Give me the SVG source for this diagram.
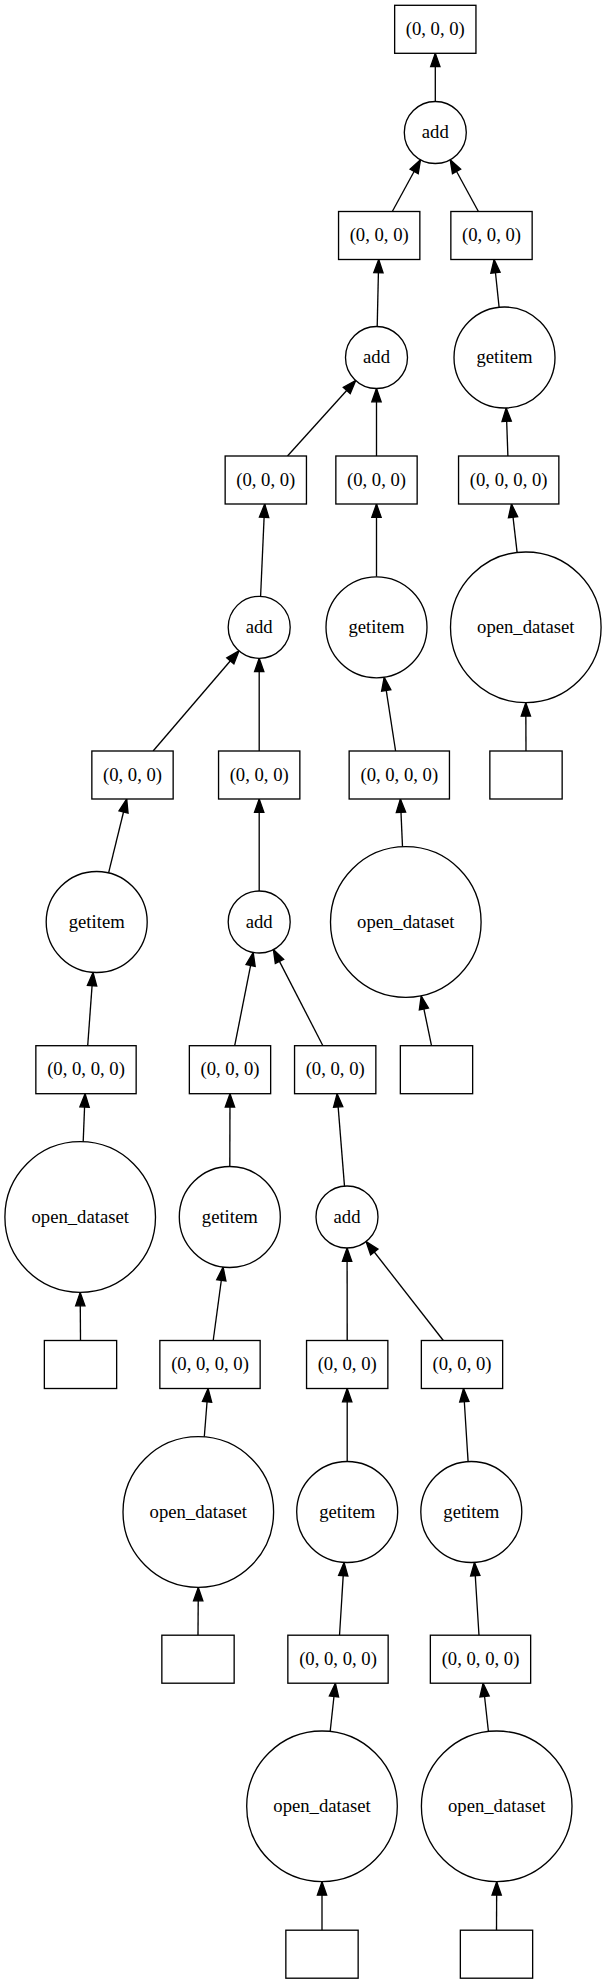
<svg xmlns="http://www.w3.org/2000/svg" width="607" height="1984" viewBox="0 0 607 1984">
<style>
.n rect,.n circle{fill:#fff;stroke:#000;stroke-width:1.33}
.n text{font-family:"Liberation Serif","Times New Roman",serif;font-size:18.67px;text-anchor:middle;fill:#000}
#edges line{stroke:#000;stroke-width:1.33;marker-end:url(#arr)}
</style>
<defs>
<marker id="arr" markerUnits="userSpaceOnUse" markerWidth="16" markerHeight="12" refX="13.33" refY="4.67" orient="auto" overflow="visible">
<path d="M0,0 L13.33,4.67 L0,9.33 Z" fill="#000" stroke="#000" stroke-width="1.33"/>
</marker>
</defs>
<rect x="0" y="0" width="607" height="1984" fill="#fff"/>
<g id="edges">
<line x1="435.3" y1="101.5" x2="435.3" y2="53.3"/>
<line x1="392.3" y1="211.5" x2="420.5" y2="159.7"/>
<line x1="478.4" y1="211.5" x2="450.2" y2="159.7"/>
<line x1="377.2" y1="326.5" x2="378.7" y2="259.5"/>
<line x1="499.1" y1="307.3" x2="494.1" y2="259.5"/>
<line x1="287.5" y1="456" x2="355.7" y2="380.5"/>
<line x1="376.5" y1="456" x2="376.5" y2="388.5"/>
<line x1="507.9" y1="456" x2="506.2" y2="408"/>
<line x1="260.6" y1="596.3" x2="264.7" y2="504"/>
<line x1="376.5" y1="576.8" x2="376.5" y2="504"/>
<line x1="517.1" y1="552.3" x2="511.5" y2="504"/>
<line x1="153.1" y1="751" x2="239" y2="650.8"/>
<line x1="259.2" y1="751" x2="259.2" y2="658.3"/>
<line x1="395.6" y1="751" x2="384.2" y2="677.2"/>
<line x1="526" y1="751" x2="525.8" y2="702.8"/>
<line x1="108.6" y1="872.9" x2="126.7" y2="799"/>
<line x1="259.2" y1="891" x2="259.2" y2="799"/>
<line x1="402.5" y1="846.6" x2="400.4" y2="799"/>
<line x1="234.7" y1="1045.7" x2="253.2" y2="952.4"/>
<line x1="322.9" y1="1045.7" x2="273.4" y2="949.6"/>
<line x1="87.7" y1="1045.7" x2="93.05" y2="972.4"/>
<line x1="431.5" y1="1045.7" x2="421.2" y2="995.9"/>
<line x1="83.2" y1="1141.6" x2="85.1" y2="1093.7"/>
<line x1="229.8" y1="1166.5" x2="230" y2="1093.7"/>
<line x1="344.5" y1="1186.1" x2="337.1" y2="1093.7"/>
<line x1="80.5" y1="1340.5" x2="80.2" y2="1292.5"/>
<line x1="213.2" y1="1340.5" x2="223.1" y2="1267.1"/>
<line x1="347.2" y1="1340.5" x2="347.1" y2="1248"/>
<line x1="443.3" y1="1340.5" x2="366.1" y2="1241.5"/>
<line x1="204.3" y1="1436.7" x2="208.1" y2="1388.5"/>
<line x1="347.2" y1="1461.5" x2="347.2" y2="1388.5"/>
<line x1="468.1" y1="1461.6" x2="463.5" y2="1388.5"/>
<line x1="198" y1="1635.2" x2="198.3" y2="1587.5"/>
<line x1="339.5" y1="1635.2" x2="344.05" y2="1562.4"/>
<line x1="479" y1="1635.2" x2="474.45" y2="1562.4"/>
<line x1="330.2" y1="1731.2" x2="335.4" y2="1683.2"/>
<line x1="488.4" y1="1731.3" x2="483.1" y2="1683.2"/>
<line x1="322" y1="1930.2" x2="322" y2="1881.8"/>
<line x1="496.5" y1="1930.2" x2="496.7" y2="1881.8"/>
</g>
<g id="n0" class="n"><rect x="394.65" y="5.3" width="81.3" height="48"/><text x="435.3" y="34.9">(0, 0, 0)</text></g>
<g id="n1" class="n"><circle cx="435.3" cy="132.5" r="31"/><text x="435.3" y="138.1">add</text></g>
<g id="n2" class="n"><rect x="338.55" y="211.5" width="81.3" height="48"/><text x="379.2" y="241.1">(0, 0, 0)</text></g>
<g id="n3" class="n"><rect x="450.85" y="211.5" width="81.3" height="48"/><text x="491.5" y="241.1">(0, 0, 0)</text></g>
<g id="n4" class="n"><circle cx="376.5" cy="357.5" r="31"/><text x="376.5" y="363.1">add</text></g>
<g id="n5" class="n"><circle cx="504.5" cy="357.5" r="50.5"/><text x="504.5" y="363.1">getitem</text></g>
<g id="n6" class="n"><rect x="225.15" y="456" width="81.3" height="48"/><text x="265.8" y="485.6">(0, 0, 0)</text></g>
<g id="n7" class="n"><rect x="335.85" y="456" width="81.3" height="48"/><text x="376.5" y="485.6">(0, 0, 0)</text></g>
<g id="n8" class="n"><rect x="458.55" y="456" width="100.3" height="48"/><text x="508.7" y="485.6">(0, 0, 0, 0)</text></g>
<g id="n9" class="n"><circle cx="259.2" cy="627.3" r="31"/><text x="259.2" y="632.9">add</text></g>
<g id="n10" class="n"><circle cx="376.5" cy="627.3" r="50.5"/><text x="376.5" y="632.9">getitem</text></g>
<g id="n11" class="n"><circle cx="525.8" cy="627.3" r="75.3"/><text x="525.8" y="632.9">open_dataset</text></g>
<g id="n12" class="n"><rect x="91.85" y="751" width="81.3" height="48"/><text x="132.5" y="780.6">(0, 0, 0)</text></g>
<g id="n13" class="n"><rect x="218.55" y="751" width="81.3" height="48"/><text x="259.2" y="780.6">(0, 0, 0)</text></g>
<g id="n14" class="n"><rect x="349.15" y="751" width="100.3" height="48"/><text x="399.3" y="780.6">(0, 0, 0, 0)</text></g>
<g id="n15" class="n"><rect x="489.85" y="751" width="72.3" height="48"/></g>
<g id="n16" class="n"><circle cx="96.7" cy="922" r="50.5"/><text x="96.7" y="927.6">getitem</text></g>
<g id="n17" class="n"><circle cx="259.2" cy="922" r="31"/><text x="259.2" y="927.6">add</text></g>
<g id="n18" class="n"><circle cx="405.8" cy="922" r="75.3"/><text x="405.8" y="927.6">open_dataset</text></g>
<g id="n19" class="n"><rect x="35.85" y="1045.7" width="100.3" height="48"/><text x="86" y="1075.3">(0, 0, 0, 0)</text></g>
<g id="n20" class="n"><rect x="189.35" y="1045.7" width="81.3" height="48"/><text x="230" y="1075.3">(0, 0, 0)</text></g>
<g id="n21" class="n"><rect x="294.55" y="1045.7" width="81.3" height="48"/><text x="335.2" y="1075.3">(0, 0, 0)</text></g>
<g id="n22" class="n"><rect x="400.35" y="1045.7" width="72.3" height="48"/></g>
<g id="n23" class="n"><circle cx="80.2" cy="1217" r="75.3"/><text x="80.2" y="1222.6">open_dataset</text></g>
<g id="n24" class="n"><circle cx="229.8" cy="1217" r="50.5"/><text x="229.8" y="1222.6">getitem</text></g>
<g id="n25" class="n"><circle cx="347" cy="1217" r="31"/><text x="347" y="1222.6">add</text></g>
<g id="n26" class="n"><rect x="44.35" y="1340.5" width="72.3" height="48"/></g>
<g id="n27" class="n"><rect x="159.85" y="1340.5" width="100.3" height="48"/><text x="210" y="1370.1">(0, 0, 0, 0)</text></g>
<g id="n28" class="n"><rect x="306.55" y="1340.5" width="81.3" height="48"/><text x="347.2" y="1370.1">(0, 0, 0)</text></g>
<g id="n29" class="n"><rect x="421.35" y="1340.5" width="81.3" height="48"/><text x="462" y="1370.1">(0, 0, 0)</text></g>
<g id="n30" class="n"><circle cx="198.3" cy="1512" r="75.3"/><text x="198.3" y="1517.6">open_dataset</text></g>
<g id="n31" class="n"><circle cx="347.2" cy="1512" r="50.5"/><text x="347.2" y="1517.6">getitem</text></g>
<g id="n32" class="n"><circle cx="471.3" cy="1512" r="50.5"/><text x="471.3" y="1517.6">getitem</text></g>
<g id="n33" class="n"><rect x="161.85" y="1635.2" width="72.3" height="48"/></g>
<g id="n34" class="n"><rect x="287.85" y="1635.2" width="100.3" height="48"/><text x="338" y="1664.8">(0, 0, 0, 0)</text></g>
<g id="n35" class="n"><rect x="430.35" y="1635.2" width="100.3" height="48"/><text x="480.5" y="1664.8">(0, 0, 0, 0)</text></g>
<g id="n36" class="n"><circle cx="322" cy="1806.3" r="75.3"/><text x="322" y="1811.9">open_dataset</text></g>
<g id="n37" class="n"><circle cx="496.7" cy="1806.3" r="75.3"/><text x="496.7" y="1811.9">open_dataset</text></g>
<g id="n38" class="n"><rect x="285.85" y="1930.2" width="72.3" height="48"/></g>
<g id="n39" class="n"><rect x="460.35" y="1930.2" width="72.3" height="48"/></g>
</svg>
